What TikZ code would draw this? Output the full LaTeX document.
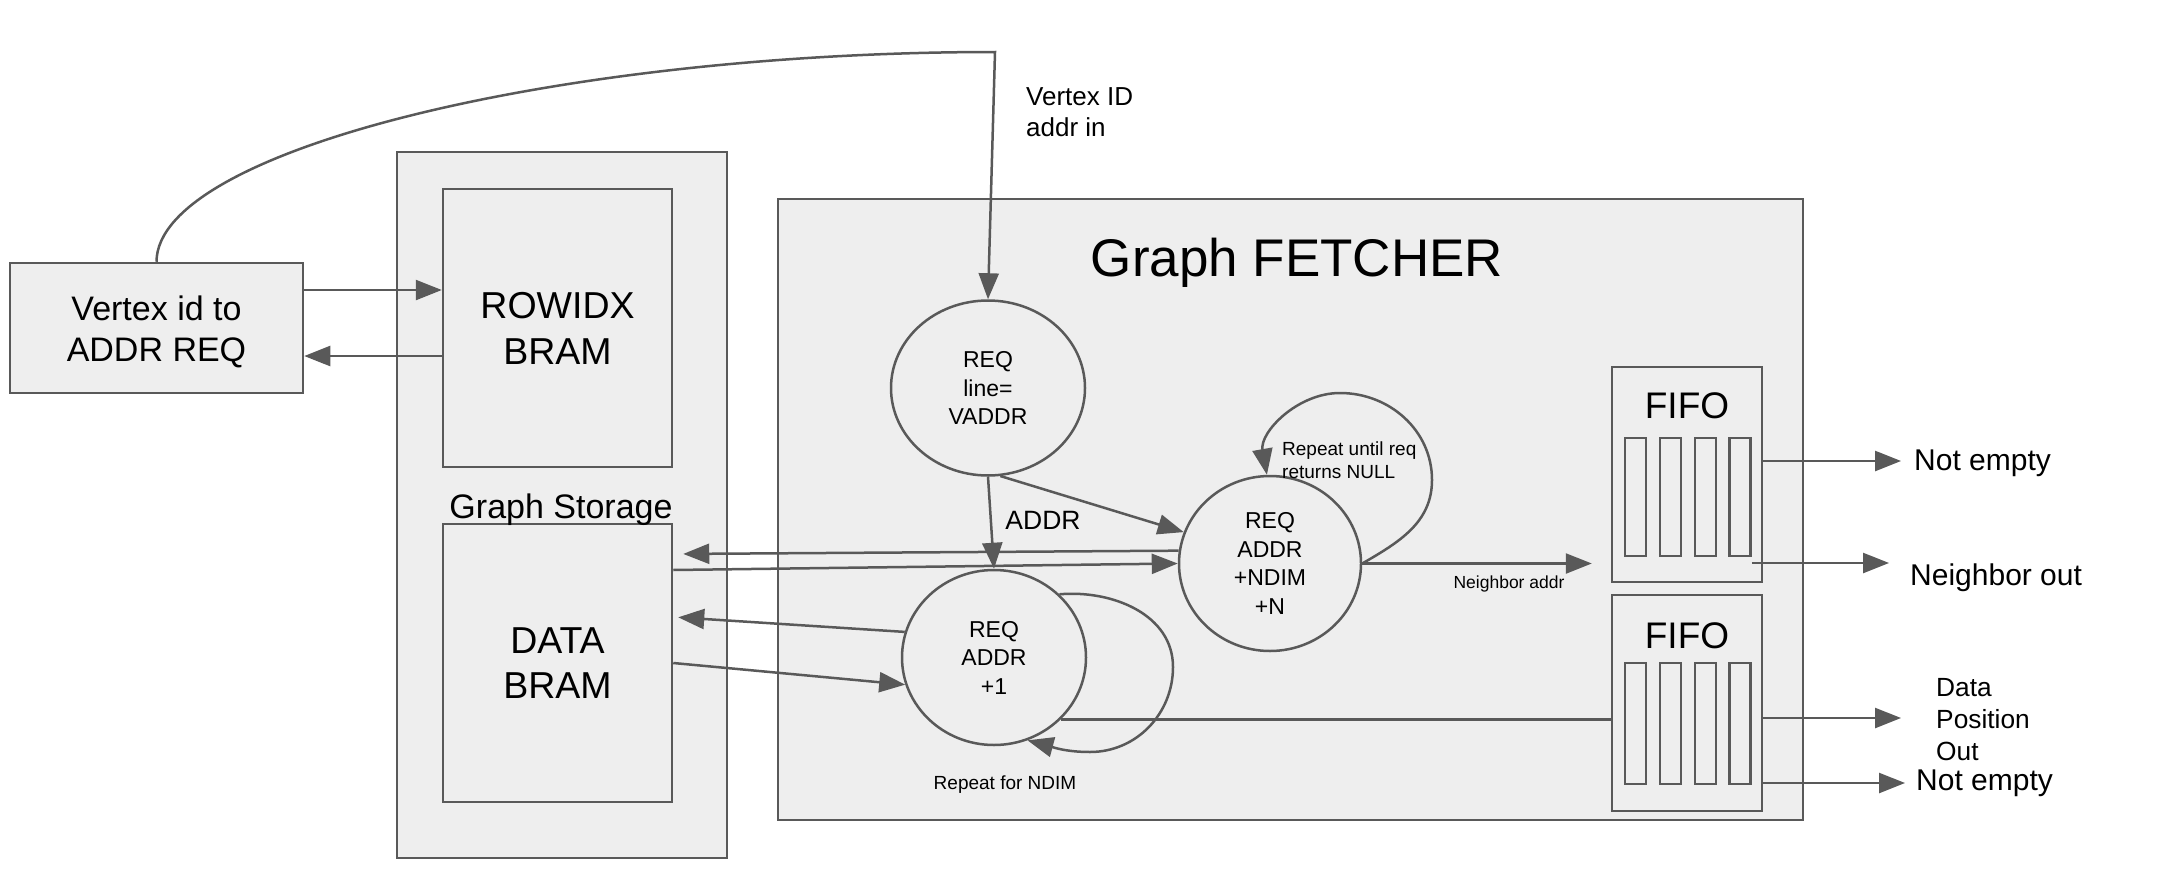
\documentclass[tikz,border=0pt]{standalone}
\usepackage{fontspec}
\setmainfont{Liberation Sans}
\usetikzlibrary{arrows.meta,shapes.geometric,calc}
\definecolor{ln}{HTML}{595959}
\definecolor{bg}{HTML}{EEEEEE}
\newcommand\myfs[2]{\fontsize{#1pt}{#2pt}\selectfont}
\newcommand\lowr[1]{\raisebox{-4pt}[\height][\depth]{#1}}
\begin{document}
\begin{tikzpicture}[x=1pt,y=-1pt,
  box/.style={draw=ln, fill=bg, line width=2.5pt, inner sep=0pt},
  slot/.style={draw=ln, fill=bg, line width=2.5pt, inner sep=0pt, minimum width=21pt},
  ell/.style={ellipse, draw=ln, fill=bg, line width=2.5pt, inner sep=0pt, align=center, font=\myfs{23}{28.5}},
  lbl/.style={inner sep=0pt, text=black},
  conn/.style={draw=ln, line width=2.5pt},
  arr/.style={conn, -{Triangle[length=26pt,width=20pt]}}]
\fill[white] (0,0) rectangle (2172,870);
\useasboundingbox (0,0) rectangle (2172,870);
% containers
\node[box, minimum width=330pt, minimum height=706pt] (gstore) at (562,505) {};
\node[box, minimum width=1025pt, minimum height=621pt] (fetch) at (1290.5,509.5) {};
% left side
\node[box, minimum width=293pt, minimum height=130pt, align=center, font=\myfs{34}{41}] (vbox) at (156.5,328) {\lowr{Vertex id to}\\\lowr{ADDR REQ}};
\node[box, minimum width=229pt, minimum height=278pt, align=center, font=\myfs{37.5}{46}] (rowidx) at (557.5,328) {ROWIDX\\BRAM};
\node[box, minimum width=229pt, minimum height=278pt, align=center, font=\myfs{37.5}{45}] (dbram) at (557.5,663) {DATA\\BRAM};
\node[lbl, font=\myfs{34}{40}] (gsl) at (561,510) {Graph Storage};
\node[lbl, font=\myfs{53}{60}] (gft) at (1297,263) {Graph FETCHER};
% ellipses
\node[ell, minimum width=194pt, minimum height=175pt] (e1) at (988,388) {REQ\\line=\\VADDR};
\node[ell, minimum width=182pt, minimum height=175pt] (e2) at (1270,563.5) {REQ\\ADDR\\+NDIM\\+N};
\node[ell, minimum width=184pt, minimum height=175pt] (e3) at (994,657.5) {REQ\\ADDR\\+1};
% FIFOs
\node[box, minimum width=150pt, minimum height=215pt] (fifo1) at (1687,474.5) {};
\node[lbl, font=\myfs{37}{44}] (f1l) at (1687,406) {FIFO};
\node[slot, minimum height=118pt] (s11) at (1635.5,497) {};
\node[slot, minimum height=118pt] (s12) at (1670.5,497) {};
\node[slot, minimum height=118pt] (s13) at (1705.5,497) {};
\node[slot, minimum height=118pt] (s14) at (1740,497) {};
\node[box, minimum width=150pt, minimum height=216pt] (fifo2) at (1687,703) {};
\node[lbl, font=\myfs{37}{44}] (f2l) at (1687,636) {FIFO};
\node[slot, minimum height=121pt] (s21) at (1635.5,723.5) {};
\node[slot, minimum height=121pt] (s22) at (1670.5,723.5) {};
\node[slot, minimum height=121pt] (s23) at (1705.5,723.5) {};
\node[slot, minimum height=121pt] (s24) at (1740,723.5) {};
% labels
\node[lbl, anchor=west, align=left, font=\myfs{26}{31}] (vid) at (1026,112) {Vertex ID\\addr in};
\node[lbl, font=\myfs{26.5}{30}] (addrl) at (1043,520) {ADDR};
\node[lbl, font=\myfs{17.5}{21}] (nal) at (1509,584) {Neighbor addr};
\node[lbl, anchor=west, align=left, font=\myfs{19}{23}] (rul) at (1282,460) {Repeat until req\\returns NULL};
\node[lbl, font=\myfs{19}{23}] (rfl) at (1005,785) {Repeat for NDIM};
\node[lbl, anchor=west, font=\myfs{30}{36}] (ne1) at (1914,463) {Not empty};
\node[lbl, anchor=west, font=\myfs{30}{36}] (nout) at (1910,578) {Neighbor out};
\node[lbl, anchor=west, align=left, font=\myfs{26.3}{32}] (dpo) at (1936,720) {Data\\Position\\Out};
\node[lbl, anchor=west, font=\myfs{30}{36}] (ne2) at (1916,783) {Not empty};
% connectors
\coordinate (vtop) at (995,52);
\draw[arr] (vbox.east |- 0,290) -- (rowidx.west |- 0,290);
\draw[arr] (rowidx.west |- 0,356) -- (vbox.east |- 0,356);
\draw[arr] (vbox.north) .. controls (157,150) and (560,52) .. (vtop) -- (e1.north);
\draw[arr] (e1.south) -- (e3.north);
\draw[arr] (e1.-82) -- (e2.160);
\draw[arr, shorten >=10pt] (e2.172) -- (dbram.east |- 0,554);
\draw[arr] (dbram.east |- 0,570) -- (e2.west);
\draw[arr, shorten >=5pt] (e3.164) -- (dbram.east |- 0,617);
\draw[arr] (dbram.east |- 0,663) -- (e3.197);
\draw[arr, shorten >=19pt] (e2.east) -- (e2.east -| fifo1.west);
\draw[arr] (e2.east) to[out=30,in=-90] (1432,480) to[out=90,in=0] (1340,393) to[out=180,in=100] (e2.92);
\draw[arr] (e3.44) to[out=5,in=90] (1173,667) to[out=-90,in=0] (1090,752) to[out=180,in=-15] (e3.-68);
\draw[conn] (e3.-43) -- (e3.-43 -| fifo2.west);
\draw[arr, shorten >=13pt] (fifo1.east |- 0,461) -- (ne1.west |- 0,461);
\draw[arr, shorten >=21pt] (s14.east |- 0,563) -- (nout.west |- 0,563);
\draw[arr, shorten >=35pt] (fifo2.east |- 0,718) -- (dpo.west |- 0,718);
\draw[arr, shorten >=11pt] (fifo2.east |- 0,783) -- (ne2.west |- 0,783);
\end{tikzpicture}
\end{document}
